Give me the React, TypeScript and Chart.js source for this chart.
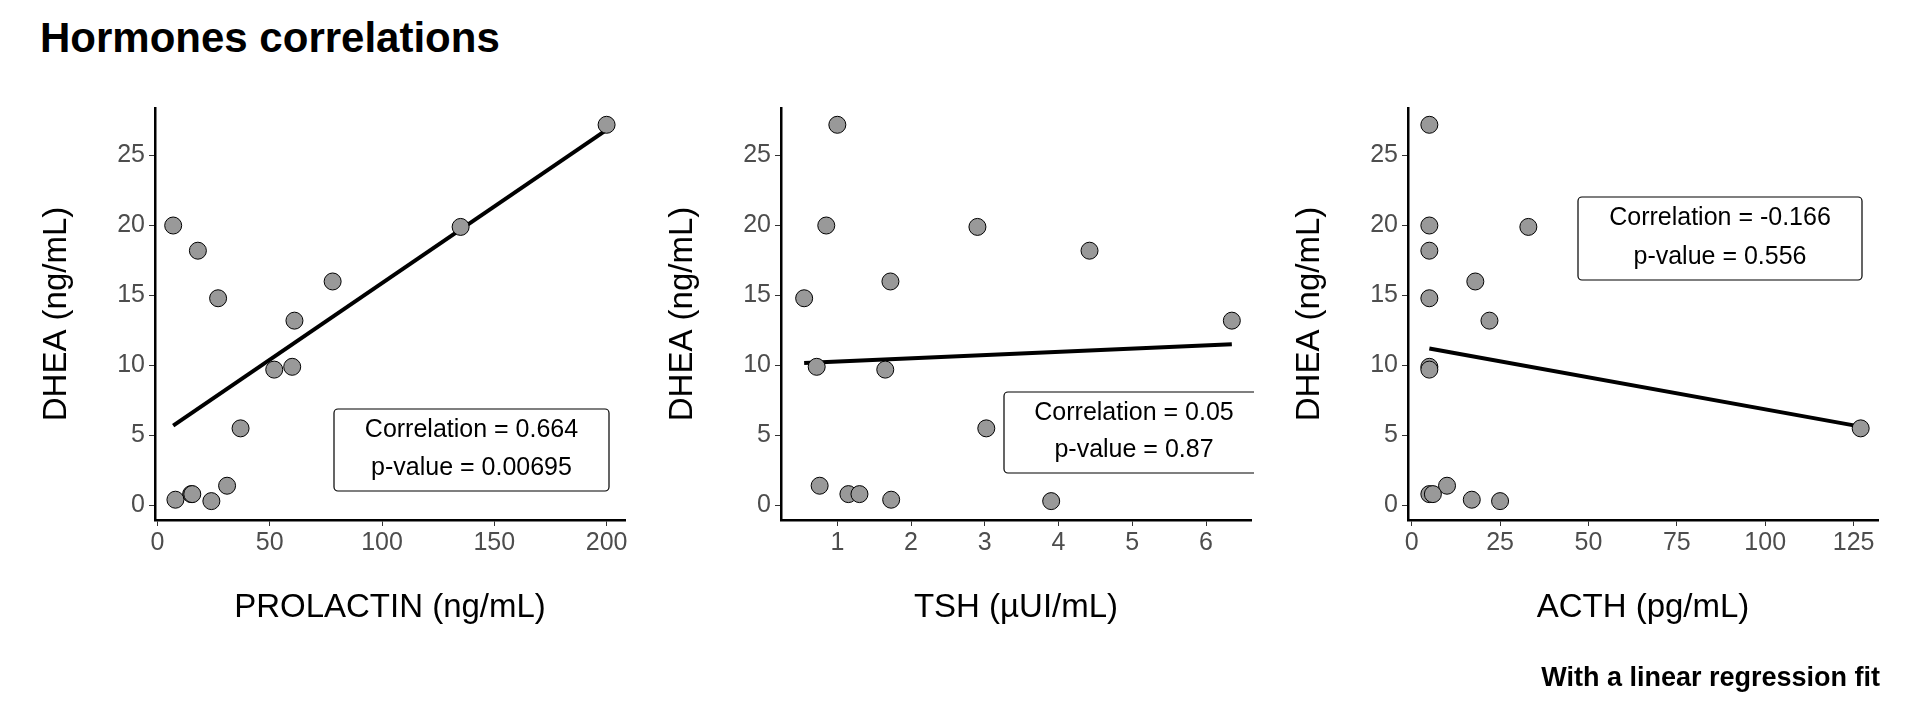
import { useEffect, useRef } from 'react'
import { Chart, registerables } from 'chart.js'

Chart.register(...registerables)

// DHEA (ng/mL), one value per subject
const dhea = [27.2, 20.0, 19.9, 18.2, 16.0, 14.8, 13.2, 9.9, 9.7, 5.5, 1.4, 0.8, 0.8, 0.4, 0.3]
const prolactin = [200, 7, 135, 18, 78, 27, 61, 60, 52, 37, 31, 15, 15.5, 8, 24]
const tsh = [1.0, 0.85, 2.9, 4.42, 1.72, 0.55, 6.35, 0.72, 1.65, 3.02, 0.76, 1.15, 1.3, 1.73, 3.9]
const acth = [5, 5, 33, 5, 18, 5, 22, 5, 5, 127, 10, 5, 6, 17, 25]

const dheaTicks = [0, 5, 10, 15, 20, 25]
const prolactinTicks = [0, 50, 100, 150, 200]
const tshTicks = [1, 2, 3, 4, 5, 6]
const acthTicks = [0, 25, 50, 75, 100, 125]

const FONT = '"Liberation Sans", Arial, sans-serif'

type Panel = {
  xs: number[]
  xTicks: number[]
  xMin: number
  xMax: number
  xTitle: string
  label: string[]
  box: { x: number; y: number; w: number; h: number }
  left: number
}

const panels: Panel[] = [
  {
    xs: prolactin, xTicks: prolactinTicks, xMin: -1.1, xMax: 208.2, xTitle: 'PROLACTIN (ng/mL)',
    label: ['Correlation = 0.664', 'p-value = 0.00695'], box: { x: 334, y: 409, w: 275, h: 82 }, left: 25,
  },
  {
    xs: tsh, xTicks: tshTicks, xMin: 0.236, xMax: 6.61, xTitle: 'TSH (µUI/mL)',
    label: ['Correlation = 0.05', 'p-value = 0.87'], box: { x: 1004, y: 392, w: 260, h: 81 }, left: 651,
  },
  {
    xs: acth, xTicks: acthTicks, xMin: -1.04, xMax: 131.9, xTitle: 'ACTH (pg/mL)',
    label: ['Correlation = -0.166', 'p-value = 0.556'], box: { x: 1578, y: 197, w: 284, h: 83 }, left: 1278,
  },
]

function fit(xs: number[], ys: number[]) {
  const n = xs.length
  const mx = xs.reduce((a, b) => a + b, 0) / n
  const my = ys.reduce((a, b) => a + b, 0) / n
  let sxy = 0
  let sxx = 0
  xs.forEach((x, i) => {
    sxy += (x - mx) * (ys[i] - my)
    sxx += (x - mx) * (x - mx)
  })
  const b = sxy / sxx
  return (x: number) => my + b * (x - mx)
}

function PanelChart({ p }: { p: Panel }) {
  const canvasRef = useRef<HTMLCanvasElement>(null)

  useEffect(() => {
    const canvas = canvasRef.current
    if (!canvas) return
    const f = fit(p.xs, dhea)
    const lo = Math.min(...p.xs)
    const hi = Math.max(...p.xs)
    const boxPlugin = {
      id: 'statBox',
      afterDatasetsDraw(chart: Chart) {
        const ctx = chart.ctx
        const { x, y, w, h } = p.box
        const bx = x - p.left
        ctx.save()
        ctx.beginPath()
        ctx.rect(0, 0, chart.chartArea.right + 3, chart.height)
        ctx.clip()
        ctx.fillStyle = 'white'
        ctx.strokeStyle = 'black'
        ctx.lineWidth = 1.2
        ctx.beginPath()
        ctx.roundRect(bx, y, w, h, 4)
        ctx.fill()
        ctx.stroke()
        ctx.fillStyle = 'black'
        ctx.font = `25px ${FONT}`
        ctx.textAlign = 'center'
        ctx.textBaseline = 'middle'
        ctx.fillText(p.label[0], bx + w / 2, y + h * 0.26)
        ctx.fillText(p.label[1], bx + w / 2, y + h * 0.72)
        ctx.restore()
      },
    }
    const chart = new Chart(canvas, {
      type: 'scatter',
      data: {
        datasets: [
          {
            type: 'line',
            data: [{ x: lo, y: f(lo) }, { x: hi, y: f(hi) }],
            borderColor: 'black',
            borderWidth: 4,
            pointRadius: 0,
            order: 2,
          },
          {
            data: p.xs.map((x, i) => ({ x, y: dhea[i] })),
            backgroundColor: '#999999',
            borderColor: 'black',
            borderWidth: 1,
            pointRadius: 8.5,
            order: 1,
          },
        ],
      },
      options: {
        animation: false,
        responsive: false,
        layout: { padding: { top: 108, right: 10, bottom: 88, left: 8 } },
        plugins: { legend: { display: false }, tooltip: { enabled: false } },
        scales: {
          x: {
            type: 'linear',
            min: p.xMin,
            max: p.xMax,
            afterBuildTicks: (s: any) => { s.ticks = p.xTicks.map((v) => ({ value: v })) },
            afterFit: (s: any) => { s.height = 112 },
            grid: { drawOnChartArea: false, drawTicks: true, tickLength: 6, color: '#333' },
            border: { color: 'black', width: 2.5 },
            ticks: { color: '#4d4d4d', font: { family: FONT, size: 25 }, padding: 2 },
            title: { display: true, text: p.xTitle, color: 'black', font: { family: FONT, size: 33 }, padding: { top: 20 } },
          },
          y: {
            min: -1.05,
            max: 28.4,
            afterBuildTicks: (s: any) => { s.ticks = dheaTicks.map((v) => ({ value: v })) },
            afterFit: (s: any) => { s.width = 122 },
            grid: { drawOnChartArea: false, drawTicks: true, tickLength: 6, color: '#333' },
            border: { color: 'black', width: 2.5 },
            ticks: { color: '#4d4d4d', font: { family: FONT, size: 25 }, padding: 4 },
            title: { display: true, text: 'DHEA (ng/mL)', color: 'black', font: { family: FONT, size: 33 }, padding: { bottom: 12 } },
          },
        },
      },
      plugins: [boxPlugin],
    })
    return () => chart.destroy()
  }, [p])

  return (
    <canvas
      ref={canvasRef}
      width={610}
      height={720}
      style={{ position: 'absolute', left: p.left, top: 0, width: 610, height: 720 }}
    />
  )
}

export default function App() {
  return (
    <div style={{ position: 'fixed', left: 0, top: 0, width: 1920, height: 720, background: 'white', fontFamily: FONT }}>
      <div style={{ position: 'absolute', left: 40, top: 14, fontSize: 42, fontWeight: 'bold' }}>Hormones correlations</div>
      {panels.map((p) => <PanelChart key={p.xTitle} p={p} />)}
      <div style={{ position: 'absolute', right: 40, top: 662, fontSize: 27, fontWeight: 'bold' }}>With a linear regression fit</div>
    </div>
  )
}
